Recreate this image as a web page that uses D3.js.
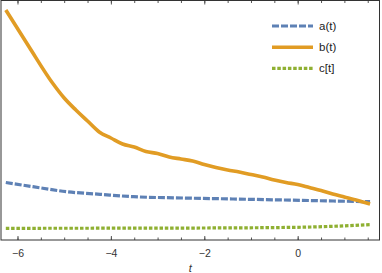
<!DOCTYPE html>
<html>
<head>
<meta charset="utf-8">
<script src="https://cdn.jsdelivr.net/npm/d3@7"></script>
<style>
  body { margin: 0; background: #fff; }
  svg { display: block; font-family: 'Liberation Sans', Arial, sans-serif; }
</style>
</head>
<body>
<svg id="chart" width="382" height="273"></svg>
<script>
// sample points (t, value)
var tA = [-6.25, -5.67, -4.95, -4.23, -3.52, -2.45, -1.38, -0.31, 0.76, 1.55];
var aVals = [5.75, 5.33, 4.83, 4.57, 4.33, 4.2, 4.1, 4.0, 3.9, 3.83];

var tB = [-6.25, -5.75, -5.25, -5.0, -4.75, -4.5, -4.25, -4.0, -3.75, -3.5, -3.25, -3.0, -2.75, -2.5, -2.25, -2.0,
          -1.75, -1.5, -1.25, -1.0, -0.75, -0.5, -0.25, 0, 0.25, 0.5, 0.75, 1.0, 1.25, 1.55];
var bVals = [23.0, 19.3, 15.7, 14.2, 13.0, 11.9, 10.8, 10.2, 9.6, 9.3, 8.85, 8.65, 8.3, 8.1, 7.9, 7.55,
             7.25, 7.0, 6.8, 6.55, 6.3, 6.0, 5.75, 5.55, 5.25, 4.95, 4.6, 4.3, 4.0, 3.6];

var tC = [-6.25, -4, -2, 0, 0.76, 1.55];
var cVals = [1.17, 1.18, 1.2, 1.27, 1.37, 1.53];

var xTicks = [-6, -4, -2, 0];
var legendLabels = ['a(t)', 'b(t)', 'c[t]'];

(function() {
    'use strict';
    var svg = d3.select('#chart'),
        left = 1, right = 379.5, top = 0.5, bottom = 240;

    var x = d3.scaleLinear().domain([-6.353, 1.752]).range([left, right]);
    var y = d3.scaleLinear().domain([0, 24]).range([bottom, 0]);

    var series = [
        {t: tA, v: aVals, color: '#5e81b5', width: 3.2, dash: '7,2'},
        {t: tB, v: bVals, color: '#e19c24', width: 3.6, dash: null},
        {t: tC, v: cVals, color: '#8fb032', width: 3.2, dash: '3.5,1.8'}
    ];

    var line = d3.line()
        .x(function(d) { return x(d[0]); })
        .y(function(d) { return y(d[1]); })
        .curve(d3.curveMonotoneX);

    svg.append('g').selectAll('path')
        .data(series).enter().append('path')
        .attr('d', function(s) { return line(d3.zip(s.t, s.v)); })
        .attr('fill', 'none')
        .attr('stroke', function(s) { return s.color; })
        .attr('stroke-width', function(s) { return s.width; })
        .attr('stroke-dasharray', function(s) { return s.dash; });

    // frame with ticks on bottom and top
    var minor = d3.range(-6.0, 1.6, 0.5);
    var bAxis = d3.axisBottom(x).tickValues(minor).tickSizeInner(-2.5).tickSizeOuter(0).tickFormat('');
    var tAxis = d3.axisTop(x).tickValues(minor).tickSizeInner(-2.5).tickSizeOuter(0).tickFormat('');
    var bMajor = d3.axisBottom(x).tickValues(xTicks).tickSizeInner(-4).tickSizeOuter(0).tickPadding(10)
        .tickFormat(function(d) { return d < 0 ? '\u2212' + Math.abs(d) : d; });
    var tMajor = d3.axisTop(x).tickValues(xTicks).tickSizeInner(-4).tickSizeOuter(0).tickFormat('');

    function styleAxis(g) {
        g.select('.domain').remove();
        g.selectAll('line').attr('stroke', '#555');
        g.selectAll('text').attr('fill', '#333').attr('font-size', 10.5);
    }
    svg.append('g').attr('transform', 'translate(0,' + bottom + ')').call(bAxis).call(styleAxis);
    svg.append('g').attr('transform', 'translate(0,' + top + ')').call(tAxis).call(styleAxis);
    svg.append('g').attr('transform', 'translate(0,' + bottom + ')').call(bMajor).call(styleAxis);
    svg.append('g').attr('transform', 'translate(0,' + top + ')').call(tMajor).call(styleAxis);

    svg.append('rect')
        .attr('x', left).attr('y', top)
        .attr('width', right - left).attr('height', bottom - top)
        .attr('fill', 'none').attr('stroke', '#333').attr('stroke-width', 1);

    svg.append('text')
        .attr('x', (left + right) / 2).attr('y', 272)
        .attr('text-anchor', 'middle')
        .attr('font-size', 11).attr('font-style', 'italic').attr('fill', '#333')
        .text('t');

    // legend
    var lg = svg.append('g').selectAll('g')
        .data(series).enter().append('g')
        .attr('transform', function(d, i) { return 'translate(272,' + (26 + i * 21.2) + ')'; });
    lg.append('line')
        .attr('x1', 0).attr('x2', 41)
        .attr('stroke', function(s) { return s.color; })
        .attr('stroke-width', function(s) { return s.width; })
        .attr('stroke-dasharray', function(s) { return s.dash; });
    lg.append('text')
        .attr('x', 47).attr('dy', '0.35em')
        .attr('font-size', 11.5).attr('fill', '#222')
        .text(function(d, i) { return legendLabels[i]; });
}());
</script>
</body>
</html>
